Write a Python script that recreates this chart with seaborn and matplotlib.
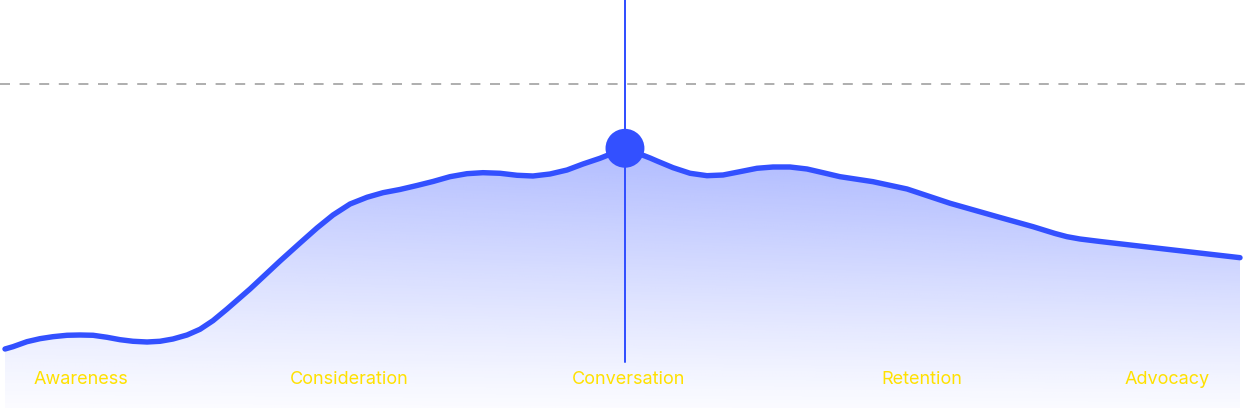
import numpy as np
import pandas as pd
import matplotlib
matplotlib.use("Agg")
import matplotlib.pyplot as plt
import seaborn as sns

# ---- data ----
progress = [0.00, 0.65, 1.78, 2.83, 3.89, 5.02, 6.07, 7.13, 8.26, 9.31,
            10.36, 11.50, 12.55, 13.60, 14.74, 15.79, 16.84, 17.98, 19.84, 22.27,
            23.89, 25.26, 26.56, 27.94, 29.31, 30.61, 31.98, 33.36, 34.66, 36.03,
            37.41, 38.70, 40.08, 41.46, 42.75, 44.13, 45.51, 46.80, 48.18, 50.20,
            52.23, 52.79, 54.09, 55.47, 56.84, 58.14, 59.51, 60.89, 62.19, 63.56,
            64.94, 66.23, 67.61, 70.28, 73.04, 76.52, 80.57, 83.24, 85.02, 85.99,
            87.04, 88.66, 94.09, 100.0]
engagement = [14.75, 15.33, 16.58, 17.33, 17.83, 18.18, 18.25, 18.18, 17.68, 17.08,
              16.68, 16.50, 16.68, 17.25, 18.25, 19.68, 21.83, 24.75, 29.75, 36.75,
              41.25, 45.00, 48.25, 51.00, 52.68, 53.83, 54.63, 55.63, 56.63, 57.83,
              58.58, 58.83, 58.68, 58.18, 58.00, 58.50, 59.50, 61.00, 62.43, 64.93,
              62.50, 61.75, 60.08, 58.68, 58.08, 58.25, 59.08, 59.93, 60.25, 60.25,
              59.75, 58.83, 57.83, 56.58, 54.75, 51.18, 47.63, 45.33, 43.63, 42.83,
              42.25, 41.63, 39.68, 37.58]
stages = ["Awareness", "Consideration", "Conversation", "Retention", "Advocacy"]
stage_x = [6.15, 27.9, 50.5, 74.25, 94.1]
highlight_x = [50.20]
highlight_y = [64.93]
target_level = 81.0

df = pd.DataFrame({"progress": progress, "engagement": engagement})
hl = pd.DataFrame({"progress": highlight_x, "engagement": highlight_y})

sns.set_theme(style="white")
plt.rcParams["font.family"] = ["Inter", "DejaVu Sans"]

BLUE = "#3350FF"
W, H, DPI = 1245, 408, 100
fig = plt.figure(figsize=(W / DPI, H / DPI), dpi=DPI)
ax = fig.add_axes([0, 0, 1, 1])
xmin, xmax = -5 / 12.35, (W - 5) / 12.35
ymin, ymax = 0, H / 4
ax.set_xlim(xmin, xmax)
ax.set_ylim(ymin, ymax)
ax.axis("off")

# gradient fill under curve
poly = ax.fill_between(df["progress"], df["engagement"], 0, facecolor="none", edgecolor="none")
ny, nx = 300, 200
ty = np.clip(np.linspace(0, 1, ny)[:, None] / (66 / ymax), 0, 1)
tx = np.linspace(0, 1, nx)[None, :]
a = (0.02 + 0.32 * ty ** 1.1) * (1 + 0.3 * tx)
rgba = np.zeros((ny, nx, 4))
rgba[..., 0] = 0x33 / 255
rgba[..., 1] = 0x50 / 255
rgba[..., 2] = 1.0
rgba[..., 3] = a
im = ax.imshow(rgba, origin="lower", extent=[xmin, xmax, ymin, ymax], aspect="auto",
               interpolation="bilinear", zorder=1)
im.set_clip_path(poly.get_paths()[0], transform=ax.transData)

# dashed reference line
ax.axhline(target_level, color="#B0B0B0", lw=1.44, dashes=(5, 4.8), zorder=2)

# vertical marker line
ax.axvline(highlight_x[0], ymin=11.5 / ymax, ymax=1, color=BLUE, lw=1.44, zorder=3)

# main line
sns.lineplot(data=df, x="progress", y="engagement", ax=ax, color=BLUE, lw=3.9,
             solid_capstyle="round", solid_joinstyle="round", zorder=4, legend=False)

# highlight point
sns.scatterplot(data=hl, x="progress", y="engagement", ax=ax, color=BLUE, s=28 ** 2,
                edgecolor="none", zorder=5, legend=False)

# stage labels
for name, xs in zip(stages, stage_x):
    ax.text(xs, 7.0, name, color="#FFE100", fontsize=13, ha="center", va="center", zorder=6)

ax.set_xlabel("")
ax.set_ylabel("")
fig.savefig("out.png", dpi=DPI)
